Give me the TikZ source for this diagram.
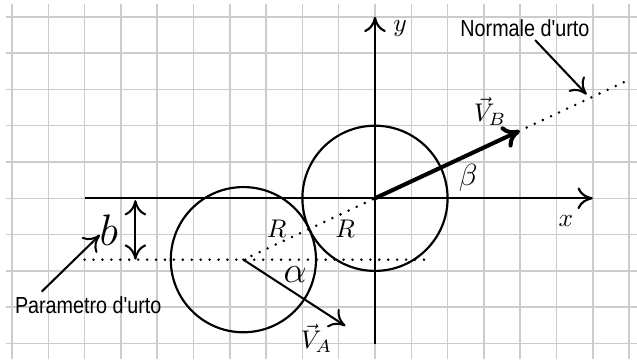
\documentclass[tikz,border=0pt]{standalone}
\usepackage{fontspec}
\newfontfamily\labfont[FakeStretch=0.85]{Liberation Sans}
\usetikzlibrary{arrows.meta,calc}
\begin{document}
\begin{tikzpicture}[x=0.5cm,y=0.5cm,
  tip/.style={To[length=6pt,width=8.5pt]},
  gridline/.style={draw=black!20,line width=0.6pt},
  axis/.style={line width=0.85pt,-{To[length=6pt,width=8.5pt]}},
  ptr/.style={line width=0.8pt,-{To[length=6pt,width=8.5pt]}},
  dotline/.style={line width=1.1pt,line cap=round,dash pattern=on 0pt off 3.5pt},
  ball/.style={line width=0.85pt},
  mlab/.style={inner sep=0pt},
  txt/.style={inner sep=0pt,font=\labfont\fontsize{9.1}{11}\selectfont}]
\useasboundingbox (-10.33,-4.427) rectangle (7.218,5.463);
\draw[gridline,step=0.5cm] (-10.17,-4.427) grid (7.218,5.35);
% named points
\coordinate (O) at (0,0);
\coordinate (A) at (205:4);
\coordinate (Nend) at (25:7.7);
\coordinate (VB) at (25:4.4);
\coordinate (VA) at ($(A)+(-33:3.35)$);
\coordinate (xs) at (-8,0);
\coordinate (xe) at (6,0);
\coordinate (ys) at (0,-4);
\coordinate (ye) at (0,5);
\coordinate (hs) at (-8,-1.6905);
\coordinate (he) at (1.5,-1.6905);
\coordinate (bt) at (-6.6,-0.05);
\coordinate (bb) at (-6.6,-1.69);
% dotted lines
\draw[dotline] (A) -- (Nend);
\draw[dotline] (hs) -- (he);
% axes
\draw[axis] (xs) -- (xe);
\draw[axis] (ys) -- (ye);
% balls
\draw[ball] (O) circle (2);
\draw[ball] (A) circle (2);
% velocities
\draw[line width=1.6pt,-{To[length=6.5pt,width=9pt]}] (O) -- (VB);
\draw[ptr] (A) -- (VA);
% impact parameter
\draw[line width=0.8pt,{To[length=6pt,width=8.5pt]}-{To[length=6pt,width=8.5pt]}] (bt) -- (bb);
% labels
\node[mlab] (lx) at (5.26,-0.62) {$x$};
\node[mlab] (ly) at (0.69,4.68) {$y$};
\node[mlab] (lvb) at (3.17,2.39) {$\vec{V}_B$};
\node[mlab] (lva) at (-1.61,-3.86) {$\vec{V}_A$};
\node[mlab] (lbeta) at (2.57,0.55) {\large$\beta$};
\node[mlab] (lalpha) at (-2.2,-2.11) {\Large$\alpha$};
\node[mlab] (lb) at (-7.33,-0.89) {\LARGE$b$};
\node[mlab] (lr1) at (-2.71,-0.85) {$R$};
\node[mlab] (lr2) at (-0.82,-0.85) {$R$};
\node[txt,anchor=base] (norm) at (4.13,4.45) {Normale d'urto};
\node[txt,anchor=base] (par) at (-7.9,-3.17) {Parametro d'urto};
\coordinate (n1) at (4.41,4.36);
\coordinate (n2) at (5.83,2.86);
\coordinate (p1) at (-9.18,-2.57);
\coordinate (p2) at (-7.58,-1.01);
\draw[ptr] (n1) -- (n2);
\draw[ptr] (p1) -- (p2);
\end{tikzpicture}
\end{document}
